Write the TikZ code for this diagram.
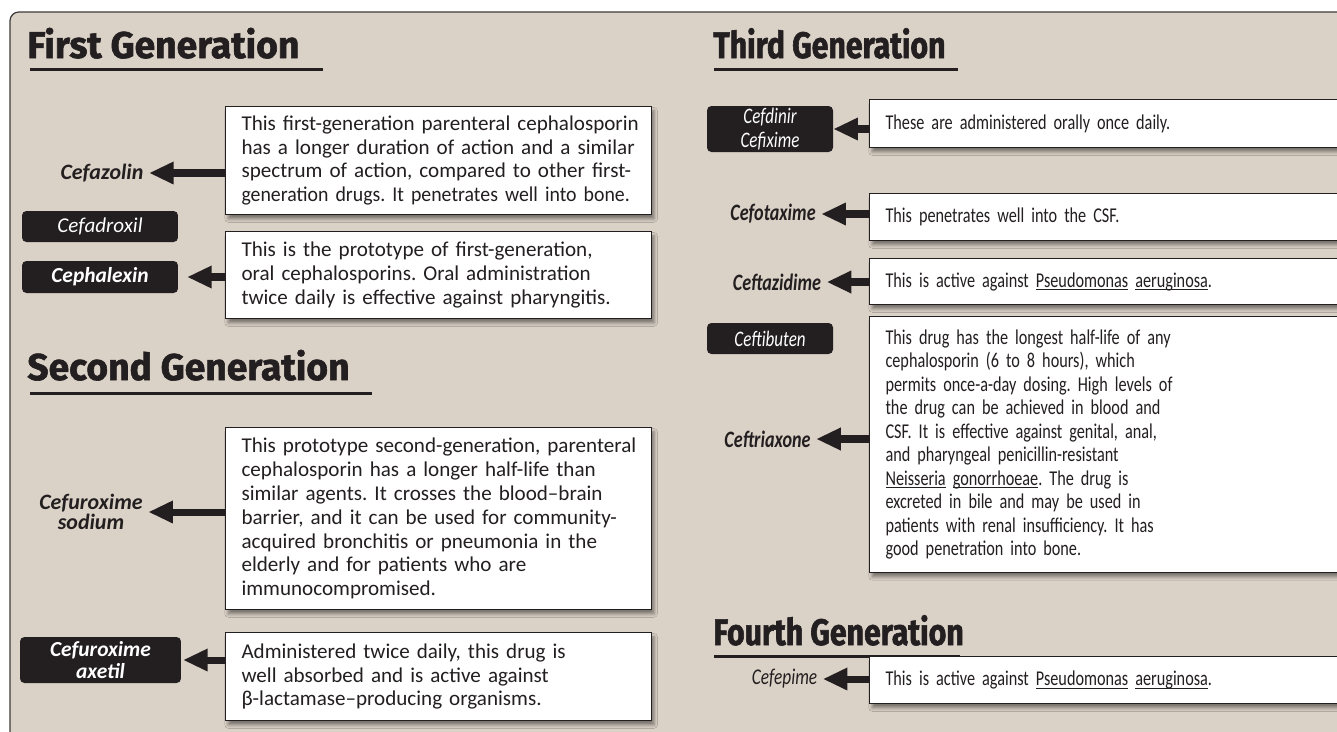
\documentclass[tikz,border=0pt]{standalone}
\usepackage{fontspec}
\setmainfont{Carlito}
\newfontfamily\narrowfont[FakeStretch=0.77]{Carlito}
\newfontfamily\snugfont[FakeStretch=0.94]{Carlito}
\newfontfamily\headfont[FakeBold=1.6]{Fira Sans}
\newfontfamily\narrowheadfont[FakeStretch=0.82, FakeBold=1.6]{Fira Sans}
\usetikzlibrary{arrows.meta, positioning, shadows.blur}
\definecolor{panelbg}{RGB}{219,210,199}
\definecolor{ink}{RGB}{35,31,32}
\definecolor{framegray}{RGB}{60,58,56}
\newcommand{\spname}[1]{\underline{\smash{#1}}}
\frenchspacing

\begin{document}
\begin{tikzpicture}[
    x=0.02cm, y=-0.02cm,
    font=\fontsize{12}{13.6}\selectfont,
    panel/.style   = {draw=framegray, fill=panelbg, line width=0.7pt, rounded corners=5pt},
    desc/.style    = {rectangle, draw=ink, fill=white, line width=0.6pt, text=ink,
                      align=left, inner xsep=0.06cm, text width=8.4cm, anchor=north west,
                      execute at begin node={\leftskip=0.26cm\relax},
                      blur shadow={shadow xshift=1.5pt, shadow yshift=-2.5pt, shadow opacity=45}},
    descr/.style   = {desc, font=\narrowfont\fontsize{12}{13.4}\selectfont, text width=10cm},
    pill/.style    = {rectangle, rounded corners=2.5pt, fill=ink, text=white, align=center,
                      inner sep=0pt, font=\itshape\fontsize{12}{13}\selectfont},
    pillb/.style   = {pill, font=\bfseries\itshape\fontsize{12.2}{12}\selectfont},
    pillr/.style   = {pill, font=\narrowfont\itshape\fontsize{12.6}{13.5}\selectfont},
    drug/.style    = {text=ink, align=center, inner sep=3pt,
                      font=\bfseries\itshape\fontsize{12.5}{11}\selectfont},
    drugr/.style   = {drug, font=\narrowfont\bfseries\itshape\fontsize{13.4}{12}\selectfont},
    heading/.style = {text=ink, anchor=base west, inner sep=0pt,
                      font=\headfont\bfseries\fontsize{21.2}{21}\selectfont},
    headingr/.style= {heading, font=\narrowheadfont\bfseries\fontsize{21}{21}\selectfont},
    rule/.style    = {ink, line width=1.7pt},
    arr/.style     = {ink, line width=4pt, -{Triangle[length=14pt, width=12pt]}},
]
\useasboundingbox (0,0) rectangle (1337,731);
\clip (0,0) rectangle (1337,731);
\draw[panel] (10,12) rectangle (1420,800);

% ---------------- first generation ----------------
\node[heading] (h1) at (27,58) {First Generation};
\draw[rule] (30,69) -- (323,69);
\node[desc, minimum height=2.16cm] (cefazbox) at (225,106) {This first-generation parenteral cephalosporin\\has a longer duration of action and a similar\\spectrum of action, compared to other first-\\{\snugfont generation drugs. It penetrates well into bone.}};
\node[desc, minimum height=1.74cm, below=0.32cm of cefazbox.south west, anchor=north west] (cephbox) {This is the prototype of first-generation,\\oral cephalosporins. Oral administration\\twice daily is effective against pharyngitis.};
\node[drug] (cefazolin) at (102,173) {Cefazolin};
\node[pill, minimum width=3.12cm, minimum height=0.62cm] (cefadroxil) at (100,226.5) {Cefadroxil};
\node[pillb, minimum width=3.12cm, minimum height=0.64cm] (cephalexin) at (100,277) {Cephalexin};
\draw[arr] (cefazbox.west |- cefazolin.east) -- (cefazolin.east);
\draw[arr, shorten >=5pt] (cephbox.west |- cephalexin.east) -- (cephalexin.east);

% ---------------- second generation ----------------
\node[heading] (h2) at (27,380) {Second Generation};
\draw[rule] (30,393) -- (372,393);
\node[desc, minimum height=3.64cm] (sodbox) at (225,427) {This prototype second-generation, parenteral\\cephalosporin has a longer half-life than\\similar agents. It crosses the blood--brain\\barrier, and it can be used for community-\\acquired bronchitis or pneumonia in the\\elderly and for patients who are\\immunocompromised.};
\node[desc, minimum height=1.76cm, below=0.44cm of sodbox.south west, anchor=north west] (axbox) {Administered twice daily, this drug is\\well absorbed and is active against\\β-lactamase--producing organisms.};
\node[drug] (sodium) at (91,512) {Cefuroxime\\sodium};
\node[pillb, minimum width=3.22cm, minimum height=0.92cm] (axetil) at (100.5,660) {Cefuroxime\\axetil};
\draw[arr] (sodbox.west |- sodium.east) -- (sodium.east);
\draw[arr, shorten >=1pt] (axbox.west |- axetil.east) -- (axetil.east);

% ---------------- third generation ----------------
\node[headingr] (h3) at (713,58) {Third Generation};
\draw[rule] (714,69) -- (958,69);
\node[descr, minimum height=0.96cm] (oralbox) at (869,99) {These are administered orally once daily.};
\node[descr, minimum height=0.94cm] (csfbox) at (869,193) {This penetrates well into the CSF.};
\node[descr, minimum height=0.92cm] (pseubox) at (869,258) {This is active against \spname{Pseudomonas} \spname{aeruginosa}.};
\node[descr, minimum height=5.12cm] (longbox) at (869,316) {This drug has the longest half-life of any\\cephalosporin (6 to 8 hours), which\\permits once-a-day dosing. High levels of\\the drug can be achieved in blood and\\CSF. It is effective against genital, anal,\\and pharyngeal penicillin-resistant\\\spname{Neisseria} \spname{gonorrhoeae}. The drug is\\excreted in bile and may be used in\\patients with renal insufficiency. It has\\good penetration into bone.};
\node[pillr, minimum width=2.52cm, minimum height=0.92cm] (cefdinir) at (770,129) {Cefdinir\\Cefixime};
\node[drugr] (cefotaxime) at (773,214) {Cefotaxime};
\node[drugr] (ceftazidime) at (777,282) {Ceftazidime};
\node[pillr, minimum width=2.52cm, minimum height=0.62cm] (ceftibuten) at (770,338.5) {Ceftibuten};
\node[drugr] (ceftriaxone) at (767.5,439) {Ceftriaxone};
\draw[arr] (oralbox.west |- cefdinir.east) -- (cefdinir.east);
\draw[arr] (csfbox.west |- cefotaxime.east) -- (cefotaxime.east);
\draw[arr] (pseubox.west |- ceftazidime.east) -- (ceftazidime.east);
\draw[arr] (longbox.west |- ceftriaxone.east) -- (ceftriaxone.east);

% ---------------- fourth generation ----------------
\node[headingr] (h4) at (713,645) {Fourth Generation};
\draw[rule] (714,656) -- (960,656);
\node[descr, minimum height=0.94cm] (pseubox2) at (869,656) {This is active against \spname{Pseudomonas} \spname{aeruginosa}.};
\node[drug, text=ink, font=\narrowfont\itshape\fontsize{12.8}{12}\selectfont] (cefepime) at (784.5,679) {Cefepime};
\draw[arr] (pseubox2.west |- cefepime.east) -- (cefepime.east);

\end{tikzpicture}
\end{document}
